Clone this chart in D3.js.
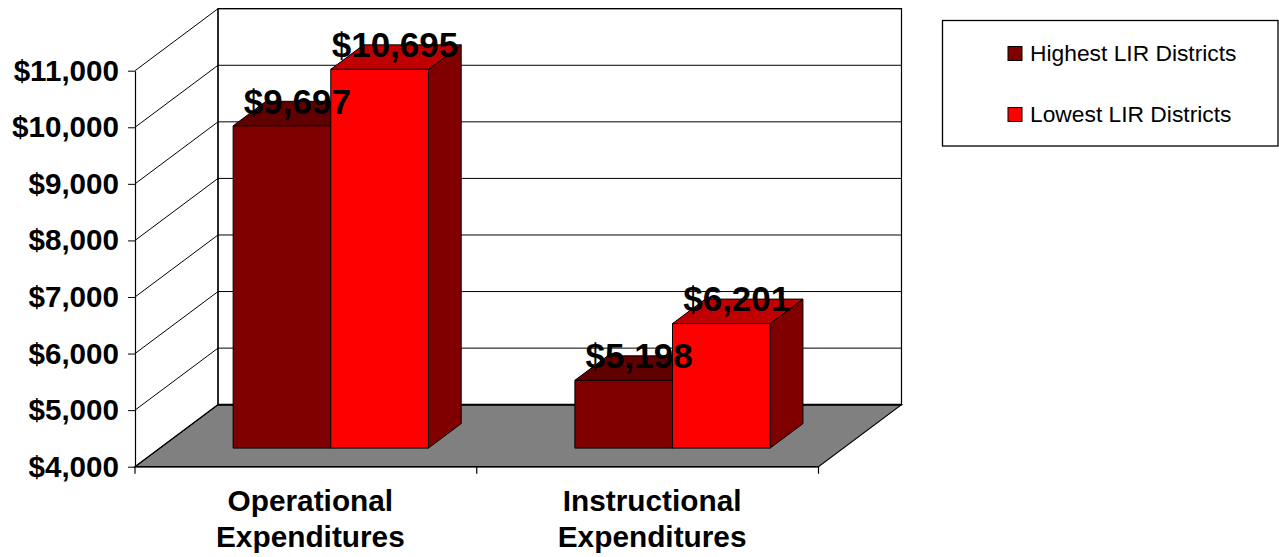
<!DOCTYPE html>
<html>
<head>
<meta charset="utf-8">
<script src="https://cdn.jsdelivr.net/npm/d3@7"></script>
<style>
  body { margin: 0; background: #fff; }
  svg { display: block; font-family: "Liberation Sans", Arial, sans-serif; }
</style>
</head>
<body>
<svg width="1279" height="557"></svg>
<script>
// chart values
var categories = [["Operational", "Expenditures"], ["Instructional", "Expenditures"]];
var seriesNames = ["Highest LIR Districts", "Lowest LIR Districts"];
var highestLIR = [9697, 5198];
var lowestLIR = [10695, 6201];
var yTicks = [4000, 5000, 6000, 7000, 8000, 9000, 10000, 11000];

var seriesValues = [highestLIR, lowestLIR];
var frontColor = ["#800000", "#ff0000"],
    topColor = ["#600000", "#c00000"],
    sideColor = ["#400000", "#800000"];

var svg = d3.select("svg");

// depth of the 3d box (back wall offset)
var DX = 83, DY = -62;
var z0 = 0.3, z1 = 0.695;

var catKeys = categories.map(function(c) { return c.join(" "); });

var x = d3.scaleBand()
    .domain(catKeys)
    .range([135, 818.5]);

var xs = d3.scaleBand()
    .domain(seriesNames)
    .range([0, x.bandwidth()])
    .paddingOuter(0.75);

var y = d3.scaleLinear()
    .domain([4000, 11000])
    .range([466.7, 70.7]);

function p(px, py, z) { return [px + z * DX, py + z * DY]; }
function poly(pts) { return "M" + pts.map(function(d) { return d.join(","); }).join("L") + "Z"; }

var x0 = x.range()[0], x1 = x.range()[1],
    yb = y(4000), yt = y(11000);

// back wall
svg.append("path")
    .attr("d", poly([p(x0, yb, 1), p(x1, yb, 1), p(x1, yt, 1), p(x0, yt, 1)]))
    .attr("fill", "#fff").attr("stroke", "#000").attr("stroke-width", 1.2);

// floor
svg.append("path")
    .attr("d", poly([p(x0, yb, 0), p(x1, yb, 0), p(x1, yb, 1), p(x0, yb, 1)]))
    .attr("fill", "#808080").attr("stroke", "#000").attr("stroke-width", 1.2);

// back gridlines
svg.selectAll(".bgrid")
    .data(yTicks)
  .enter().append("line")
    .attr("x1", p(x0, 0, 1)[0]).attr("x2", p(x1, 0, 1)[0])
    .attr("y1", function(d) { return p(0, y(d), 1)[1]; })
    .attr("y2", function(d) { return p(0, y(d), 1)[1]; })
    .attr("stroke", "#000")
    .attr("stroke-width", function(d) { return d === 4000 ? 2 : 1; });

// left wall diagonals
svg.selectAll(".lgrid")
    .data(yTicks)
  .enter().append("line")
    .attr("x1", x0).attr("y1", function(d) { return y(d); })
    .attr("x2", p(x0, 0, 1)[0]).attr("y2", function(d) { return p(0, y(d), 1)[1]; })
    .attr("stroke", "#000").attr("stroke-width", 1);

svg.append("line")
    .attr("x1", p(x0, 0, 1)[0]).attr("x2", p(x0, 0, 1)[0])
    .attr("y1", p(0, yt, 1)[1]).attr("y2", p(0, yb, 1)[1])
    .attr("stroke", "#000").attr("stroke-width", 1.2);

// y axis
var yAxis = svg.append("g")
    .attr("transform", "translate(" + x0 + ",0)")
    .call(d3.axisLeft(y)
      .tickValues(yTicks)
      .tickSize(7)
      .tickSizeOuter(0)
      .tickPadding(9)
      .tickFormat(function(d) { return "$" + d3.format(",")(d); }));
yAxis.select(".domain").attr("stroke-width", 1.2);
yAxis.selectAll("text")
    .attr("font-size", 29.6).attr("font-weight", "bold")
    .attr("font-family", "Liberation Sans, Arial, sans-serif")
    .attr("fill", "#000");

// bottom axis line and category ticks
svg.append("line")
    .attr("x1", x0).attr("x2", x1).attr("y1", yb).attr("y2", yb)
    .attr("stroke", "#000").attr("stroke-width", 1.5);
var edges = catKeys.map(function(c) { return x(c); }).concat([x1]);
svg.selectAll(".ctick")
    .data(edges)
  .enter().append("line")
    .attr("x1", function(d) { return d; }).attr("x2", function(d) { return d; })
    .attr("y1", yb).attr("y2", yb + 7)
    .attr("stroke", "#000").attr("stroke-width", 1.2);

// bars (left series first, then right one covers its side)
var bars = [];
catKeys.forEach(function(c, ci) {
  seriesNames.forEach(function(s, si) {
    bars.push({ cat: c, ci: ci, si: si, value: seriesValues[si][ci] });
  });
});

var barG = svg.append("g");
bars.forEach(function(b) {
  var L = x(b.cat) + xs(seriesNames[b.si]),
      R = L + xs.bandwidth(),
      T = y(b.value), B = yb;
  var g = barG.append("g");
  // side
  g.append("path")
      .attr("d", poly([p(R, B, z0), p(R, B, z1), p(R, T, z1), p(R, T, z0)]))
      .attr("fill", sideColor[b.si]).attr("stroke", "#000").attr("stroke-width", 1);
  // top
  g.append("path")
      .attr("d", poly([p(L, T, z0), p(R, T, z0), p(R, T, z1), p(L, T, z1)]))
      .attr("fill", topColor[b.si]).attr("stroke", "#000").attr("stroke-width", 1);
  // front
  g.append("path")
      .attr("d", poly([p(L, B, z0), p(R, B, z0), p(R, T, z0), p(L, T, z0)]))
      .attr("fill", frontColor[b.si]).attr("stroke", "#000").attr("stroke-width", 1);
});

// value labels on top of bars
var zm = (z0 + z1) / 2;
svg.selectAll(".vlabel")
    .data(bars)
  .enter().append("text")
    .attr("x", function(d) { return p(x(d.cat) + xs(seriesNames[d.si]) + xs.bandwidth() / 2, 0, zm)[0] - 1; })
    .attr("y", function(d) { return p(0, y(d.value), zm)[1]; })
    .attr("text-anchor", "middle")
    .attr("font-size", 35).attr("font-weight", "bold")
    .attr("fill", "#000")
    .text(function(d) { return "$" + d3.format(",")(d.value); });

// category labels
var catText = svg.selectAll(".clabel")
    .data(categories)
  .enter().append("text")
    .attr("text-anchor", "middle")
    .attr("font-size", 29.8).attr("font-weight", "bold")
    .attr("fill", "#000");
catText.selectAll("tspan")
    .data(function(d, i) { return d.map(function(t, j) { return { t: t, j: j, c: catKeys[i] }; }); })
  .enter().append("tspan")
    .attr("x", function(d) { return x(d.c) + x.bandwidth() / 2 + 4.5; })
    .attr("y", function(d) { return 511.3 + d.j * 35.2; })
    .text(function(d) { return d.t; });

// legend
var legend = svg.append("g");
legend.append("rect")
    .attr("x", 942.5).attr("y", 20.5).attr("width", 335.5).attr("height", 125.5)
    .attr("fill", "#fff").attr("stroke", "#000").attr("stroke-width", 1.3);
var li = legend.selectAll(".li")
    .data(seriesNames)
  .enter().append("g")
    .attr("transform", function(d, i) { return "translate(1008," + (46.5 + i * 61) + ")"; });
li.append("rect")
    .attr("width", 14).attr("height", 14)
    .attr("fill", function(d, i) { return frontColor[i]; })
    .attr("stroke", "#000").attr("stroke-width", 1);
li.append("text")
    .attr("x", 22).attr("y", 14.5)
    .attr("font-size", 22.8)
    .attr("fill", "#000")
    .text(function(d) { return d; });
</script>
</body>
</html>
